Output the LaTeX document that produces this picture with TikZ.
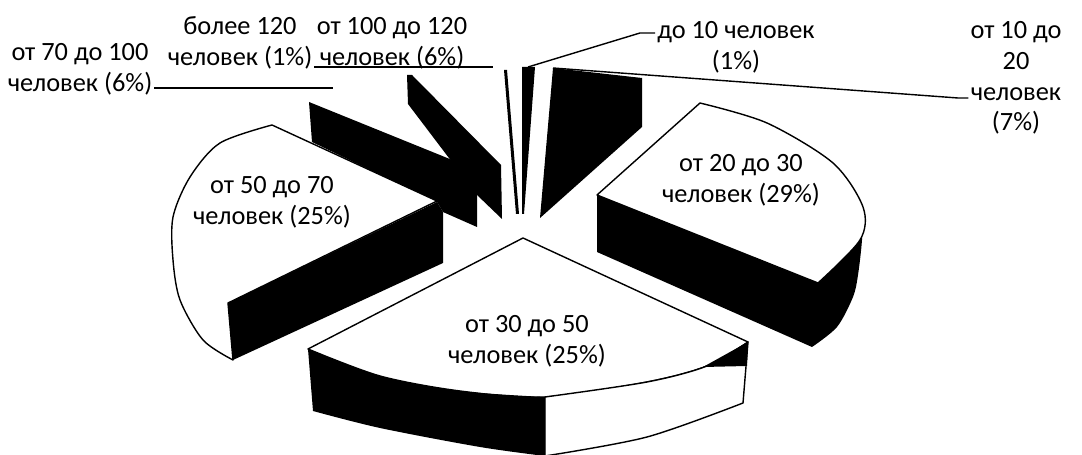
\documentclass[tikz,border=0pt]{standalone}
\usepackage{fontspec}
\setmainfont{Carlito}
\begin{document}
\begin{tikzpicture}[x=0.02cm,y=-0.02cm,
  lbl/.style={font=\fontsize{15}{17.5}\selectfont,align=center,inner sep=1pt},
  face/.style={fill=white,draw=black,line width=0.8pt,line join=round},
  side/.style={fill=black},
  lead/.style={draw=black,line width=0.8pt}]
 \useasboundingbox (0,0) rectangle (1082,455);
 % back slices, seen edge on
 \fill[side] (309,102) -- (472,168) -- (477,195) -- (477,227) -- (443,212) -- (437,202) -- (312,142) -- cycle;
 \fill[side] (407,75) -- (412,75) -- (501,165) -- (502,219) -- (477,195) -- (408,104) -- cycle;
 \fill[side] (504,70) -- (507,70) -- (519,214) -- (516,214) -- cycle;
 \fill[side] (522,67) -- (535,67) -- (524,214) -- (522,214) -- cycle;
 \fill[side] (553,68) -- (642,78) -- (642,127) -- (540,218) -- cycle;
 % from 50 to 70
 \filldraw[face] (437,201) -- (272,125)
   -- plot[smooth] coordinates {(272,125) (220,143) (190,177) (173,217) (173,260) (180,300) (203,340) (233,360)}
   -- (228,303) -- cycle;
 \fill[side] (228,303) -- (437,202) -- (443,212) -- (443,263) -- (233,360) -- cycle;
 % from 20 to 30
 \fill[side] (597,195) -- (818,283) -- (850,250) -- (863,207)
   -- plot[smooth] coordinates {(863,207) (862,240) (858,275) (853,297) (837,327) (812,347)}
   -- (597,252) -- cycle;
 \filldraw[face] (597,195) -- (700,103)
   -- plot[smooth] coordinates {(700,103) (767,123) (833,163) (863,207) (860,240) (818,283)}
   -- cycle;
 % from 30 to 50
 \filldraw[face] (523,238) -- (308,349)
   -- plot[smooth] coordinates {(308,349) (380,376) (460,391) (545,397) (647,382) (707,366) (748,342)}
   -- cycle;
 \filldraw[face] (545,397)
   -- plot[smooth] coordinates {(545,397) (647,382) (707,366) (748,342)}
   -- (743,403)
   -- plot[smooth] coordinates {(743,403) (647,437) (545,456)}
   -- cycle;
 \fill[side] (703,367) -- (747,366) -- (748,342) -- cycle;
 \fill[side] (308,349)
   -- plot[smooth] coordinates {(308,349) (380,376) (460,391) (545,397)}
   -- (545,456)
   -- plot[smooth] coordinates {(545,456) (480,447) (380,428) (313,411)}
   -- cycle;
 % labels
 \node[lbl] (n70) at (80,69) {от 70 до 100\\человек (6\%)};
 \node[lbl] (nmore) at (240,43) {более 120\\человек (1\%)};
 \node[lbl] (n100) at (392,43) {от 100 до 120\\человек (6\%)};
 \node[lbl] (nupto10) at (736,47) {до 10 человек\\(1\%)};
 \node[lbl] (n1020) at (1016,78) {от 10 до\\20\\человек\\(7\%)};
 \node[lbl] (n2030) at (741,180) {от 20 до 30\\человек (29\%)};
 \node[lbl] (n5070) at (272,202) {от 50 до 70\\человек (25\%)};
 \node[lbl] (n3050) at (527,341) {от 30 до 50\\человек (25\%)};
 % leaders
 \coordinate (t70) at (333,88);
 \draw[lead] (n70.east |- t70) -- (t70);
 \coordinate (tmore) at (493,67);
 \draw[lead] (nmore.east |- tmore) -- (tmore);
 \coordinate (t10) at (528,67);
 \coordinate (k10) at (640,33);
 \draw[lead] (t10) -- (k10) -- (k10 -| nupto10.west);
 \coordinate (t1020) at (553,68);
 \coordinate (k1020) at (958,98);
 \draw[lead] (t1020) -- (k1020) -- (k1020 -| n1020.west);
\end{tikzpicture}
\end{document}
